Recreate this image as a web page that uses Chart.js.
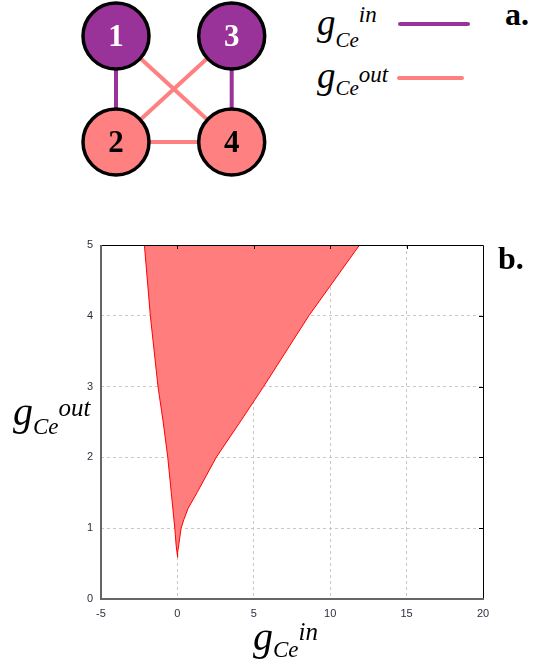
<!DOCTYPE html>
<html>
<head>
<meta charset="utf-8">
<script src="https://cdn.jsdelivr.net/npm/chart.js@4/dist/chart.umd.min.js"></script>
<style>
  html, body { margin: 0; padding: 0; background: #fff; }
  body { width: 543px; height: 669px; position: relative; overflow: hidden; }
  canvas { position: absolute; }
  #graph { left: 60px; top: 0px; }
  #region { left: 0px; top: 220px; }
  .lbl { position: absolute; white-space: nowrap; line-height: 1;
         font-family: "Liberation Serif", "DejaVu Serif", serif; font-style: italic; color: #000; }
  .lbl span { position: relative; }
  .tag { position: absolute; line-height: 1; font-family: "Liberation Serif", "DejaVu Serif", serif;
         font-weight: bold; font-size: 32px; color: #000; }
  .key { position: absolute; height: 4px; border-radius: 2px; }
</style>
</head>
<body>
<canvas id="graph" width="230" height="180"></canvas>
<canvas id="region" width="543" height="449"></canvas>

<!-- legend of panel a -->
<div class="lbl" style="left:317px; top:4px; font-size:37px;">g<span style="font-size:21px; top:12px;">Ce</span><span style="font-size:23px; top:-13px;">in</span></div>
<div class="key" style="left:398px; top:22px; width:72px; background:#993399;"></div>
<div class="lbl" style="left:317px; top:57px; font-size:37px;">g<span style="font-size:21px; top:7px;">Ce</span><span style="font-size:23px; top:-6px;">out</span></div>
<div class="key" style="left:397px; top:76px; width:67px; background:#ff8080;"></div>
<div class="tag" style="left:505px; top:-2px;">a.</div>
<div class="tag" style="left:498px; top:242px;">b.</div>

<!-- axis titles of panel b -->
<div class="lbl" style="left:13px; top:392px; font-size:40px;">g<span style="font-size:23px; top:9px;">Ce</span><span style="font-size:25px; top:-9px;">out</span></div>
<div class="lbl" style="left:253px; top:617px; font-size:40px;">g<span style="font-size:23px; top:7px;">Ce</span><span style="font-size:25px; top:-10px;">in</span></div>

<script>
// panel a: coupling graph
const nodeNames = ["1", "2", "3", "4"];
const nodeCol = [0, 0, 1, 1];     // column in the 2x2 layout
const nodeRow = [1, 0, 1, 0];     // row (1 = top)
const nodeKind = ["in", "out", "in", "out"];
const edges = [[1, 2, "in"], [3, 4, "in"], [1, 4, "out"], [3, 2, "out"], [2, 4, "out"]];

// panel b: stability region boundary
const regionIn = [-2.16, -1.77, -1.27, -0.93, -0.63, -0.4, -0.17, -0.08, -0.02, 0.0,
                  0.03, 0.08, 0.24, 0.42, 0.7, 1.28, 2.54, 4.1, 5.64, 8.6, 11.92];
const regionOut = [5, 4, 3, 2.5, 2, 1.5, 1, 0.75, 0.65, 0.59,
                   0.66, 0.75, 1, 1.12, 1.28, 1.5, 2, 2.5, 3, 4, 5];
const xTicks = [-5, 0, 5, 10, 15, 20];
const yTicks = [0, 1, 2, 3, 4, 5];

const PURPLE = "#993399";
const PINK = "#ff8080";
const kindColor = { in: PURPLE, out: PINK };

// ---- panel a ----
const edgeSets = edges.map(([a, b, kind]) => ({
  data: [a, b].map((n) => ({ x: nodeCol[n - 1], y: nodeRow[n - 1] })),
  showLine: true,
  borderColor: kindColor[kind],
  borderWidth: 4,
  pointRadius: 0,
  order: 1,
}));

const nodeLabels = {
  id: "nodeLabels",
  afterDatasetsDraw(chart) {
    const ctx = chart.ctx;
    const meta = chart.getDatasetMeta(0);
    ctx.save();
    ctx.font = "bold 31px 'Liberation Serif', serif";
    ctx.textAlign = "center";
    ctx.textBaseline = "middle";
    meta.data.forEach((pt, i) => {
      ctx.fillStyle = nodeKind[i] === "in" ? "#fff" : "#000";
      ctx.fillText(nodeNames[i], pt.x, pt.y + 2);
    });
    ctx.restore();
  },
};

new Chart(document.getElementById("graph"), {
  type: "scatter",
  data: {
    datasets: [
      {
        data: nodeNames.map((_, i) => ({ x: nodeCol[i], y: nodeRow[i] })),
        pointRadius: 33,
        pointBorderWidth: 3.5,
        pointBorderColor: "#000",
        pointBackgroundColor: nodeKind.map((k) => kindColor[k]),
        order: 0,
      },
      ...edgeSets,
    ],
  },
  options: {
    responsive: false,
    animation: false,
    devicePixelRatio: 1,
    clip: false,
    layout: { padding: 0, autoPadding: false },
    scales: {
      x: { display: false, min: -0.484, max: 1.504 },
      y: { display: false, min: -0.358, max: 1.34 },
    },
    plugins: { legend: { display: false }, tooltip: { enabled: false } },
  },
  plugins: [nodeLabels],
});

// ---- panel b ----
const frame = {
  id: "frame",
  afterDraw(chart) {
    const { ctx, chartArea: a, scales } = chart;
    ctx.save();
    ctx.strokeStyle = "#000";
    ctx.lineWidth = 1;
    ctx.beginPath();
    ctx.moveTo(a.left, a.top + 0.5);
    ctx.lineTo(a.right + 0.5, a.top + 0.5);
    ctx.lineTo(a.right + 0.5, a.bottom);
    // inward ticks on the top and right edges
    xTicks.slice(1, -1).forEach((v) => {
      const px = Math.round(scales.x.getPixelForValue(v)) + 0.5;
      ctx.moveTo(px, a.top);
      ctx.lineTo(px, a.top + 4);
    });
    yTicks.slice(1, -1).forEach((v) => {
      const py = Math.round(scales.y.getPixelForValue(v)) + 0.5;
      ctx.moveTo(a.right, py);
      ctx.lineTo(a.right - 4, py);
    });
    ctx.stroke();
    ctx.strokeStyle = "#666";
    ctx.lineWidth = 2;
    ctx.beginPath();
    ctx.moveTo(a.left, a.top);
    ctx.lineTo(a.left, a.bottom);
    ctx.lineTo(a.right + 1, a.bottom);
    ctx.stroke();
    ctx.restore();
  },
};

const innerGrid = (ticks) => (c) =>
  c.tick && c.tick.value !== ticks[0] && c.tick.value !== ticks[ticks.length - 1]
    ? "#c8c8c8"
    : "rgba(0,0,0,0)";

const tickFont = { family: "'Liberation Sans', Arial, sans-serif", size: 11 };

new Chart(document.getElementById("region"), {
  type: "scatter",
  data: {
    datasets: [
      {
        data: regionIn.map((x, i) => ({ x, y: regionOut[i] })),
        showLine: true,
        borderColor: "#ff0000",
        borderWidth: 1,
        backgroundColor: "#ff7d7d",
        pointRadius: 0,
        tension: 0,
        fill: { target: { value: 5 } },
      },
    ],
  },
  options: {
    responsive: false,
    animation: false,
    devicePixelRatio: 1,
    layout: { padding: { left: 60, top: 25, right: 60, bottom: 30 } },
    scales: {
      x: {
        type: "linear",
        min: xTicks[0],
        max: xTicks[xTicks.length - 1],
        afterBuildTicks: (s) => { s.ticks = xTicks.map((v) => ({ value: v })); },
        afterFit: (s) => { s.height = 40; },
        ticks: { font: tickFont, color: "#2e2e3e", padding: 8 },
        grid: { color: innerGrid(xTicks), drawTicks: false, lineWidth: 1 },
        border: { display: false, dash: [3, 3] },
      },
      y: {
        type: "linear",
        min: yTicks[0],
        max: yTicks[yTicks.length - 1],
        afterBuildTicks: (s) => { s.ticks = yTicks.map((v) => ({ value: v })); },
        afterFit: (s) => { s.width = 41; },
        ticks: { font: tickFont, color: "#2e2e3e", padding: 8 },
        grid: { color: innerGrid(yTicks), drawTicks: false, lineWidth: 1 },
        border: { display: false, dash: [3, 3] },
      },
    },
    plugins: { legend: { display: false }, tooltip: { enabled: false } },
  },
  plugins: [frame],
});
</script>
</body>
</html>
